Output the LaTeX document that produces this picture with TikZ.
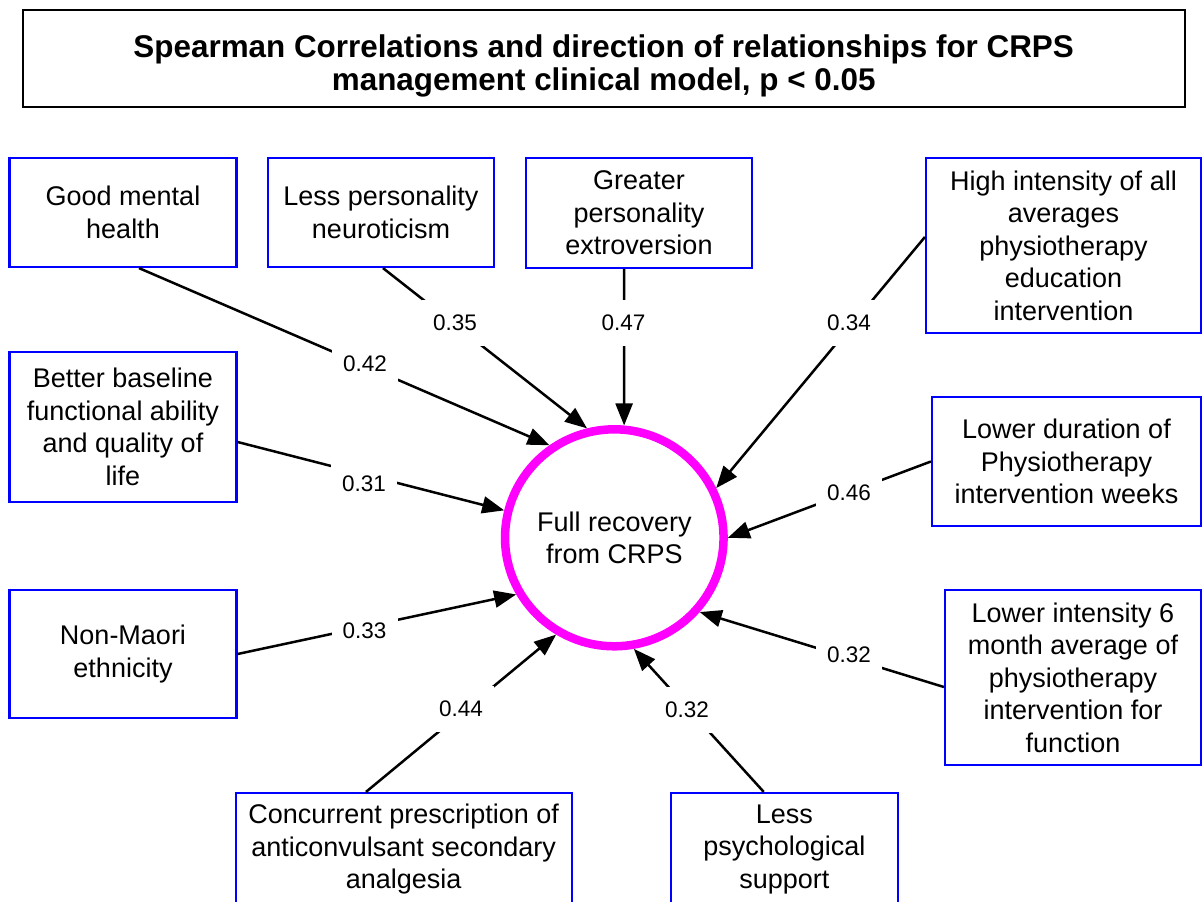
\documentclass[tikz,border=0pt]{standalone}
\usepackage{fontspec}
\setmainfont{Liberation Sans}
\usetikzlibrary{arrows.meta,shapes.geometric}
\definecolor{boxblue}{RGB}{0,0,255}
\definecolor{ringmag}{RGB}{255,0,255}
\begin{document}
\begin{tikzpicture}[x=1pt,y=-1pt,
  box/.style={draw=boxblue,line width=2.2pt,rectangle,inner sep=0pt,align=center,
    font=\fontsize{27pt}{32.5pt}\selectfont},
  titlebox/.style={draw=black,line width=1.6pt,rectangle,inner sep=0pt},
  titletext/.style={align=center,inner sep=0pt,font=\fontsize{31.4pt}{33pt}\selectfont\bfseries},
  ring/.style={draw=ringmag,line width=8.5pt,ellipse,inner sep=0pt,
    minimum width=209pt,minimum height=217pt,align=center,
    font=\fontsize{27pt}{31.5pt}\selectfont},
  conn/.style={line width=2.5pt,-{Triangle[length=22pt,width=17pt]}},
  lbl/.style={fill=white,inner sep=0pt,minimum width=66pt,minimum height=46pt,
    font=\fontsize{22.5pt}{27pt}\selectfont}
]
\useasboundingbox (0,0) rectangle (1203,902);
\clip (0,0) rectangle (1203,902);

% title
\node[titlebox,minimum width=1162pt,minimum height=97pt] (title) at (603.7,58.5) {};
\node[titletext] (titletxt) at ([yshift=-7.5pt]title.center)
  {Spearman Correlations and direction of relationships for CRPS\\management clinical model, p < 0.05};

% central ring
\node[ring] (c) at (614.3,537.8) {Full recovery\\from CRPS};

% factor boxes
\node[box,minimum width=227pt,minimum height=109pt] (b1) at (123,212.5) {Good mental\\health};
\node[box,minimum width=226pt,minimum height=109pt] (b2) at (381,212.5) {Less personality\\neuroticism};
\node[box,minimum width=226.6pt,minimum height=110pt] (b3) at (639,213) {Greater\\personality\\extroversion};
\node[box,minimum width=275pt,minimum height=175pt] (b4) at (1063.5,245.5) {High intensity of all\\averages\\physiotherapy\\education\\intervention};
\node[box,minimum width=227pt,minimum height=150pt] (b5) at (123,427) {Better baseline\\functional ability\\and quality of\\life};
\node[box,minimum width=269pt,minimum height=129pt] (b6) at (1066.5,461.5) {Lower duration of\\Physiotherapy\\intervention weeks};
\node[box,minimum width=227pt,minimum height=128pt] (b7) at (123,654) {Non-Maori\\ethnicity};
\node[box,minimum width=256pt,minimum height=175pt] (b8) at (1073,677.5) {Lower intensity 6\\month average of\\physiotherapy\\intervention for\\function};
\node[box,minimum width=336pt,minimum height=113pt] (b9) at (403.7,849.5) {Concurrent prescription of\\anticonvulsant secondary\\analgesia};
\node[box,minimum width=226.7pt,minimum height=113pt] (b10) at (784.35,849.5) {Less\\psychological\\support};

% connectors
\draw[conn] ([xshift=16pt]b1.south) -- (c.125);
\draw[conn] ([xshift=2pt]b2.south) -- (c.104);
\draw[conn] ([xshift=-15pt]b3.south) -- (c.85);
\draw[conn] ([yshift=8.5pt]b4.west) -- (c.26);
\draw[conn] ([yshift=-15pt]b5.east) -- (c.166);
\draw[conn] (b6.west) -- (c.0);
\draw[conn] (b7.east) -- (c.210);
\draw[conn] ([yshift=-9.5pt]b8.west) -- (c.319);
\draw[conn] ([xshift=-37.7pt]b9.north) -- (c.239);
\draw[conn] ([xshift=-20.6pt]b10.north) -- (c.280);

% correlation labels
\node[lbl] (l1) at (365,364) {0.42};
\node[lbl] (l2) at (455,322.5) {0.35};
\node[lbl] (l3) at (623.5,323) {0.47};
\node[lbl] (l4) at (849,323) {0.34};
\node[lbl] (l5) at (364,484) {0.31};
\node[lbl] (l6) at (849,493) {0.46};
\node[lbl] (l7) at (364.6,631) {0.33};
\node[lbl] (l8) at (849,655) {0.32};
\node[lbl] (l9) at (461,709) {0.44};
\node[lbl] (l10) at (687,710) {0.32};
\end{tikzpicture}
\end{document}
